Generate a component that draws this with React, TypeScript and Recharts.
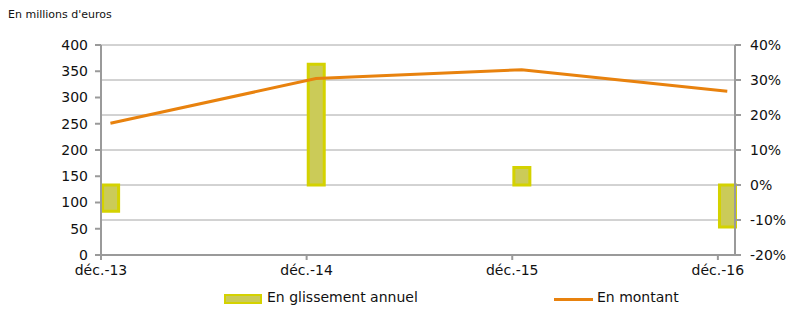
import React from 'react';
import { ComposedChart, Bar, Line, XAxis, YAxis, CartesianGrid } from 'recharts';

// months counted from déc.-13; each point sits in the middle of its month slot
const months = [0, 12, 24, 36];
const tickLabels = ['déc.-13', 'déc.-14', 'déc.-15', 'déc.-16'];
const glissement = [-0.075, 0.345, 0.05, -0.12];
const montant = [251, 336, 353, 312];

const leftTicks = [0, 50, 100, 150, 200, 250, 300, 350, 400];
const rightTicks = [-0.2, -0.1, 0, 0.1, 0.2, 0.3, 0.4];

const data = months.map((m, i) => ({
  x: m + 0.55,
  glissement: glissement[i],
  montant: montant[i],
}));

const FONT = '"DejaVu Sans", Verdana, sans-serif';
const AXIS = '#9a9a9a';
const BAR_FILL = '#CBCB58';
const BAR_STROKE = '#D4D200';
const LINE = '#E8820E';

const tickStyle = { fontSize: 14, fill: '#111', fontFamily: FONT };

const ChartLegend = () => (
  <div style={{ position: 'absolute', left: 0, top: 287, width: 793, height: 24, fontFamily: FONT, fontSize: 14, color: '#111' }}>
    <div style={{ position: 'absolute', left: 224, top: 7, width: 34, height: 6, background: BAR_FILL, border: `2px solid ${BAR_STROKE}` }} />
    <span style={{ position: 'absolute', left: 267, top: 2 }}>En glissement annuel</span>
    <div style={{ position: 'absolute', left: 554, top: 11, width: 39, height: 3, background: LINE }} />
    <span style={{ position: 'absolute', left: 597, top: 2 }}>En montant</span>
  </div>
);

export default function App() {
  return (
    <div style={{ position: 'absolute', left: 0, top: 0, width: 793, height: 315, background: '#fff' }}>
      <div style={{ position: 'absolute', left: 8, top: 8, fontFamily: FONT, fontSize: 11, color: '#111' }}>
        En millions d'euros
      </div>
      <ComposedChart width={793} height={315} data={data} margin={{ top: 45, right: 0, bottom: 35, left: 41 }}>
        <CartesianGrid yAxisId="right" vertical={false} horizontal stroke="#a6a6a6" strokeWidth={1} ticks={rightTicks} />
        <XAxis
          dataKey="x"
          type="number"
          domain={[0, 37]}
          ticks={months}
          tickFormatter={(v: number) => tickLabels[months.indexOf(v)]}
          tick={tickStyle}
          stroke={AXIS}
          strokeWidth={2}
          tickSize={5}
          tickMargin={5}
          height={25}
          interval={0}
        />
        <YAxis
          yAxisId="left"
          orientation="left"
          width={60}
          domain={[0, 400]}
          ticks={leftTicks}
          tick={tickStyle}
          stroke={AXIS}
          strokeWidth={2}
          tickSize={6}
          tickMargin={7}
          interval={0}
        />
        <YAxis
          yAxisId="right"
          orientation="right"
          width={58}
          domain={[-0.2, 0.4]}
          ticks={rightTicks}
          tickFormatter={(v: number) => `${Math.round(v * 100)}%`}
          tick={{ ...tickStyle, textAnchor: 'start' }}
          stroke={AXIS}
          strokeWidth={2}
          tickSize={6}
          tickMargin={9}
          interval={0}
        />
        <Bar
          yAxisId="right"
          dataKey="glissement"
          barSize={16}
          fill={BAR_FILL}
          stroke={BAR_STROKE}
          strokeWidth={3}
          isAnimationActive={false}
        />
        <Line
          yAxisId="left"
          dataKey="montant"
          stroke={LINE}
          strokeWidth={3}
          dot={false}
          isAnimationActive={false}
        />
      </ComposedChart>
      <ChartLegend />
    </div>
  );
}
